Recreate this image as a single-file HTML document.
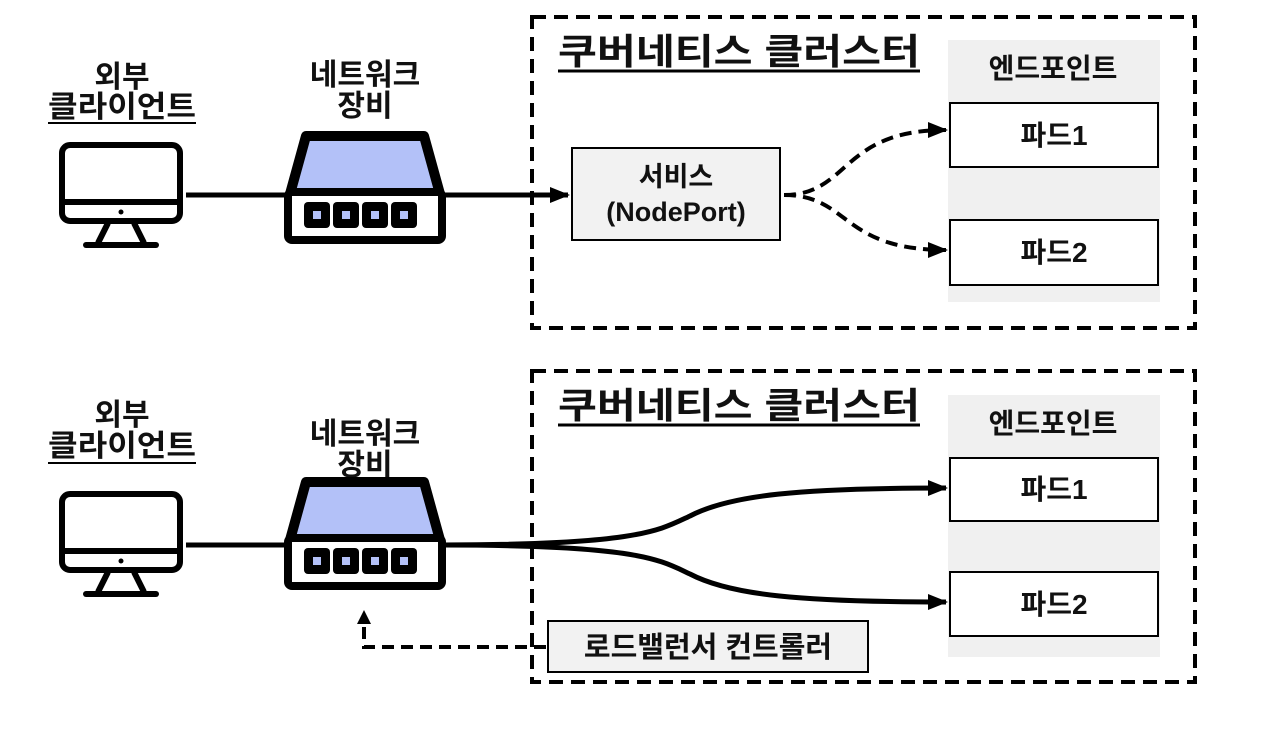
<!DOCTYPE html>
<html><head><meta charset="utf-8"><style>
html,body{margin:0;padding:0;background:#fff}
svg text{font-family:"Liberation Sans","Noto Sans CJK KR",sans-serif;fill:#111}
</style></head><body>
<svg width="1262" height="724" viewBox="0 0 1262 724" xmlns="http://www.w3.org/2000/svg">
<defs>
<marker id="ah2" markerWidth="20" markerHeight="16" refX="18" refY="8" orient="auto" markerUnits="userSpaceOnUse"><path d="M0,0 L20,8 L0,16 z" fill="#000"/></marker>
<g id="mon">
<rect x="62" y="2" width="118" height="76" rx="8" fill="#fff" stroke="#000" stroke-width="6"/>
<line x1="62" y1="59" x2="180" y2="59" stroke="#000" stroke-width="6"/>
<circle cx="121" cy="69" r="2.5" fill="#000"/>
<path d="M108,80 L98,100 M134,80 L144,100" stroke="#000" stroke-width="6"/>
<line x1="86" y1="102" x2="156" y2="102" stroke="#000" stroke-width="6" stroke-linecap="round"/>
</g>
<g id="sw">
<path d="M306,4 L424,4 L440,62 L290,62 Z" fill="#b3c1f8" stroke="#000" stroke-width="10" stroke-linejoin="round"/>
<rect x="288" y="60" width="154" height="48" rx="4" fill="#fff" stroke="#000" stroke-width="8"/>
<g fill="#000">
<rect x="304" y="70" width="26" height="26" rx="4"/><rect x="333" y="70" width="26" height="26" rx="4"/><rect x="362" y="70" width="26" height="26" rx="4"/><rect x="391" y="70" width="26" height="26" rx="4"/></g>
<g fill="#b3c1f8"><rect x="313" y="79" width="8" height="8"/><rect x="342" y="79" width="8" height="8"/><rect x="371" y="79" width="8" height="8"/><rect x="400" y="79" width="8" height="8"/></g>
</g>
</defs>

<!-- TOP -->
<rect x="532" y="17" width="663" height="311" fill="none" stroke="#000" stroke-width="4" stroke-dasharray="14,8"/>
<text x="558" y="64" font-size="36" font-weight="bold" textLength="362" lengthAdjust="spacingAndGlyphs">쿠버네티스 클러스터</text>
<line x1="558" y1="71" x2="920" y2="71" stroke="#000" stroke-width="3"/>
<rect x="948" y="40" width="212" height="262" fill="#f0f0f0"/>
<text x="1053" y="78" font-size="28" font-weight="bold" text-anchor="middle">엔드포인트</text>
<rect x="950" y="103" width="208" height="64" fill="#fff" stroke="#000" stroke-width="2"/>
<text x="1054" y="145" font-size="28" font-weight="bold" text-anchor="middle">파드1</text>
<rect x="950" y="220" width="208" height="65" fill="#fff" stroke="#000" stroke-width="2"/>
<text x="1054" y="262" font-size="28" font-weight="bold" text-anchor="middle">파드2</text>
<rect x="572" y="148" width="208" height="92" fill="#f2f2f2" stroke="#000" stroke-width="2"/>
<text x="676" y="186" font-size="27" font-weight="bold" text-anchor="middle">서비스</text>
<text x="676" y="221" font-size="27" font-weight="bold" text-anchor="middle">(NodePort)</text>

<text x="122" y="87" font-size="30" font-weight="bold" text-anchor="middle">외부</text>
<text x="122" y="117" font-size="30" font-weight="bold" text-anchor="middle" textLength="148" lengthAdjust="spacingAndGlyphs">클라이언트</text>
<line x1="48" y1="123" x2="196" y2="123" stroke="#000" stroke-width="2"/>
<text x="365" y="85" font-size="30" font-weight="bold" text-anchor="middle">네트워크</text>
<text x="365" y="116" font-size="30" font-weight="bold" text-anchor="middle">장비</text>
<use href="#mon" y="143"/>
<use href="#sw" y="132"/>
<line x1="186" y1="195" x2="287" y2="195" stroke="#000" stroke-width="5"/>
<line x1="442" y1="195" x2="568" y2="195" stroke="#000" stroke-width="5" marker-end="url(#ah2)"/>
<path d="M784,195 C850,195 840,130 946,130" fill="none" stroke="#000" stroke-width="4" stroke-dasharray="12,7" marker-end="url(#ah2)"/>
<path d="M784,195 C850,195 840,250 946,250" fill="none" stroke="#000" stroke-width="4" stroke-dasharray="12,7" marker-end="url(#ah2)"/>

<!-- BOTTOM -->
<rect x="532" y="371" width="663" height="311" fill="none" stroke="#000" stroke-width="4" stroke-dasharray="14,8"/>
<text x="558" y="418" font-size="36" font-weight="bold" textLength="362" lengthAdjust="spacingAndGlyphs">쿠버네티스 클러스터</text>
<line x1="558" y1="425" x2="920" y2="425" stroke="#000" stroke-width="3"/>
<rect x="948" y="395" width="212" height="262" fill="#f0f0f0"/>
<text x="1053" y="433" font-size="28" font-weight="bold" text-anchor="middle">엔드포인트</text>
<rect x="950" y="458" width="208" height="63" fill="#fff" stroke="#000" stroke-width="2"/>
<text x="1054" y="499" font-size="28" font-weight="bold" text-anchor="middle">파드1</text>
<rect x="950" y="572" width="208" height="64" fill="#fff" stroke="#000" stroke-width="2"/>
<text x="1054" y="614" font-size="28" font-weight="bold" text-anchor="middle">파드2</text>

<text x="122" y="425" font-size="30" font-weight="bold" text-anchor="middle">외부</text>
<text x="122" y="456" font-size="30" font-weight="bold" text-anchor="middle" textLength="148" lengthAdjust="spacingAndGlyphs">클라이언트</text>
<line x1="48" y1="463" x2="196" y2="463" stroke="#000" stroke-width="2"/>
<text x="365" y="444" font-size="30" font-weight="bold" text-anchor="middle">네트워크</text>
<text x="365" y="475" font-size="30" font-weight="bold" text-anchor="middle">장비</text>
<use href="#mon" y="492"/>
<use href="#sw" y="478"/>
<line x1="186" y1="545" x2="287" y2="545" stroke="#000" stroke-width="5"/>
<path d="M442,545 C640,545 660,530 690,516 C730,495 800,488 946,488" fill="none" stroke="#000" stroke-width="5" marker-end="url(#ah2)"/>
<path d="M442,545 C640,545 660,560 690,574 C730,595 800,602 946,602" fill="none" stroke="#000" stroke-width="5" marker-end="url(#ah2)"/>
<rect x="548" y="621" width="320" height="51" fill="#f2f2f2" stroke="#000" stroke-width="2"/>
<text x="708" y="657" font-size="29" font-weight="bold" text-anchor="middle">로드밸런서 컨트롤러</text>
<path d="M546,647 L364,647 L364,618" fill="none" stroke="#000" stroke-width="4" stroke-dasharray="12,7"/>
<path d="M357,624 L364,610 L371,624 z" fill="#000"/>
</svg>
</body></html>
